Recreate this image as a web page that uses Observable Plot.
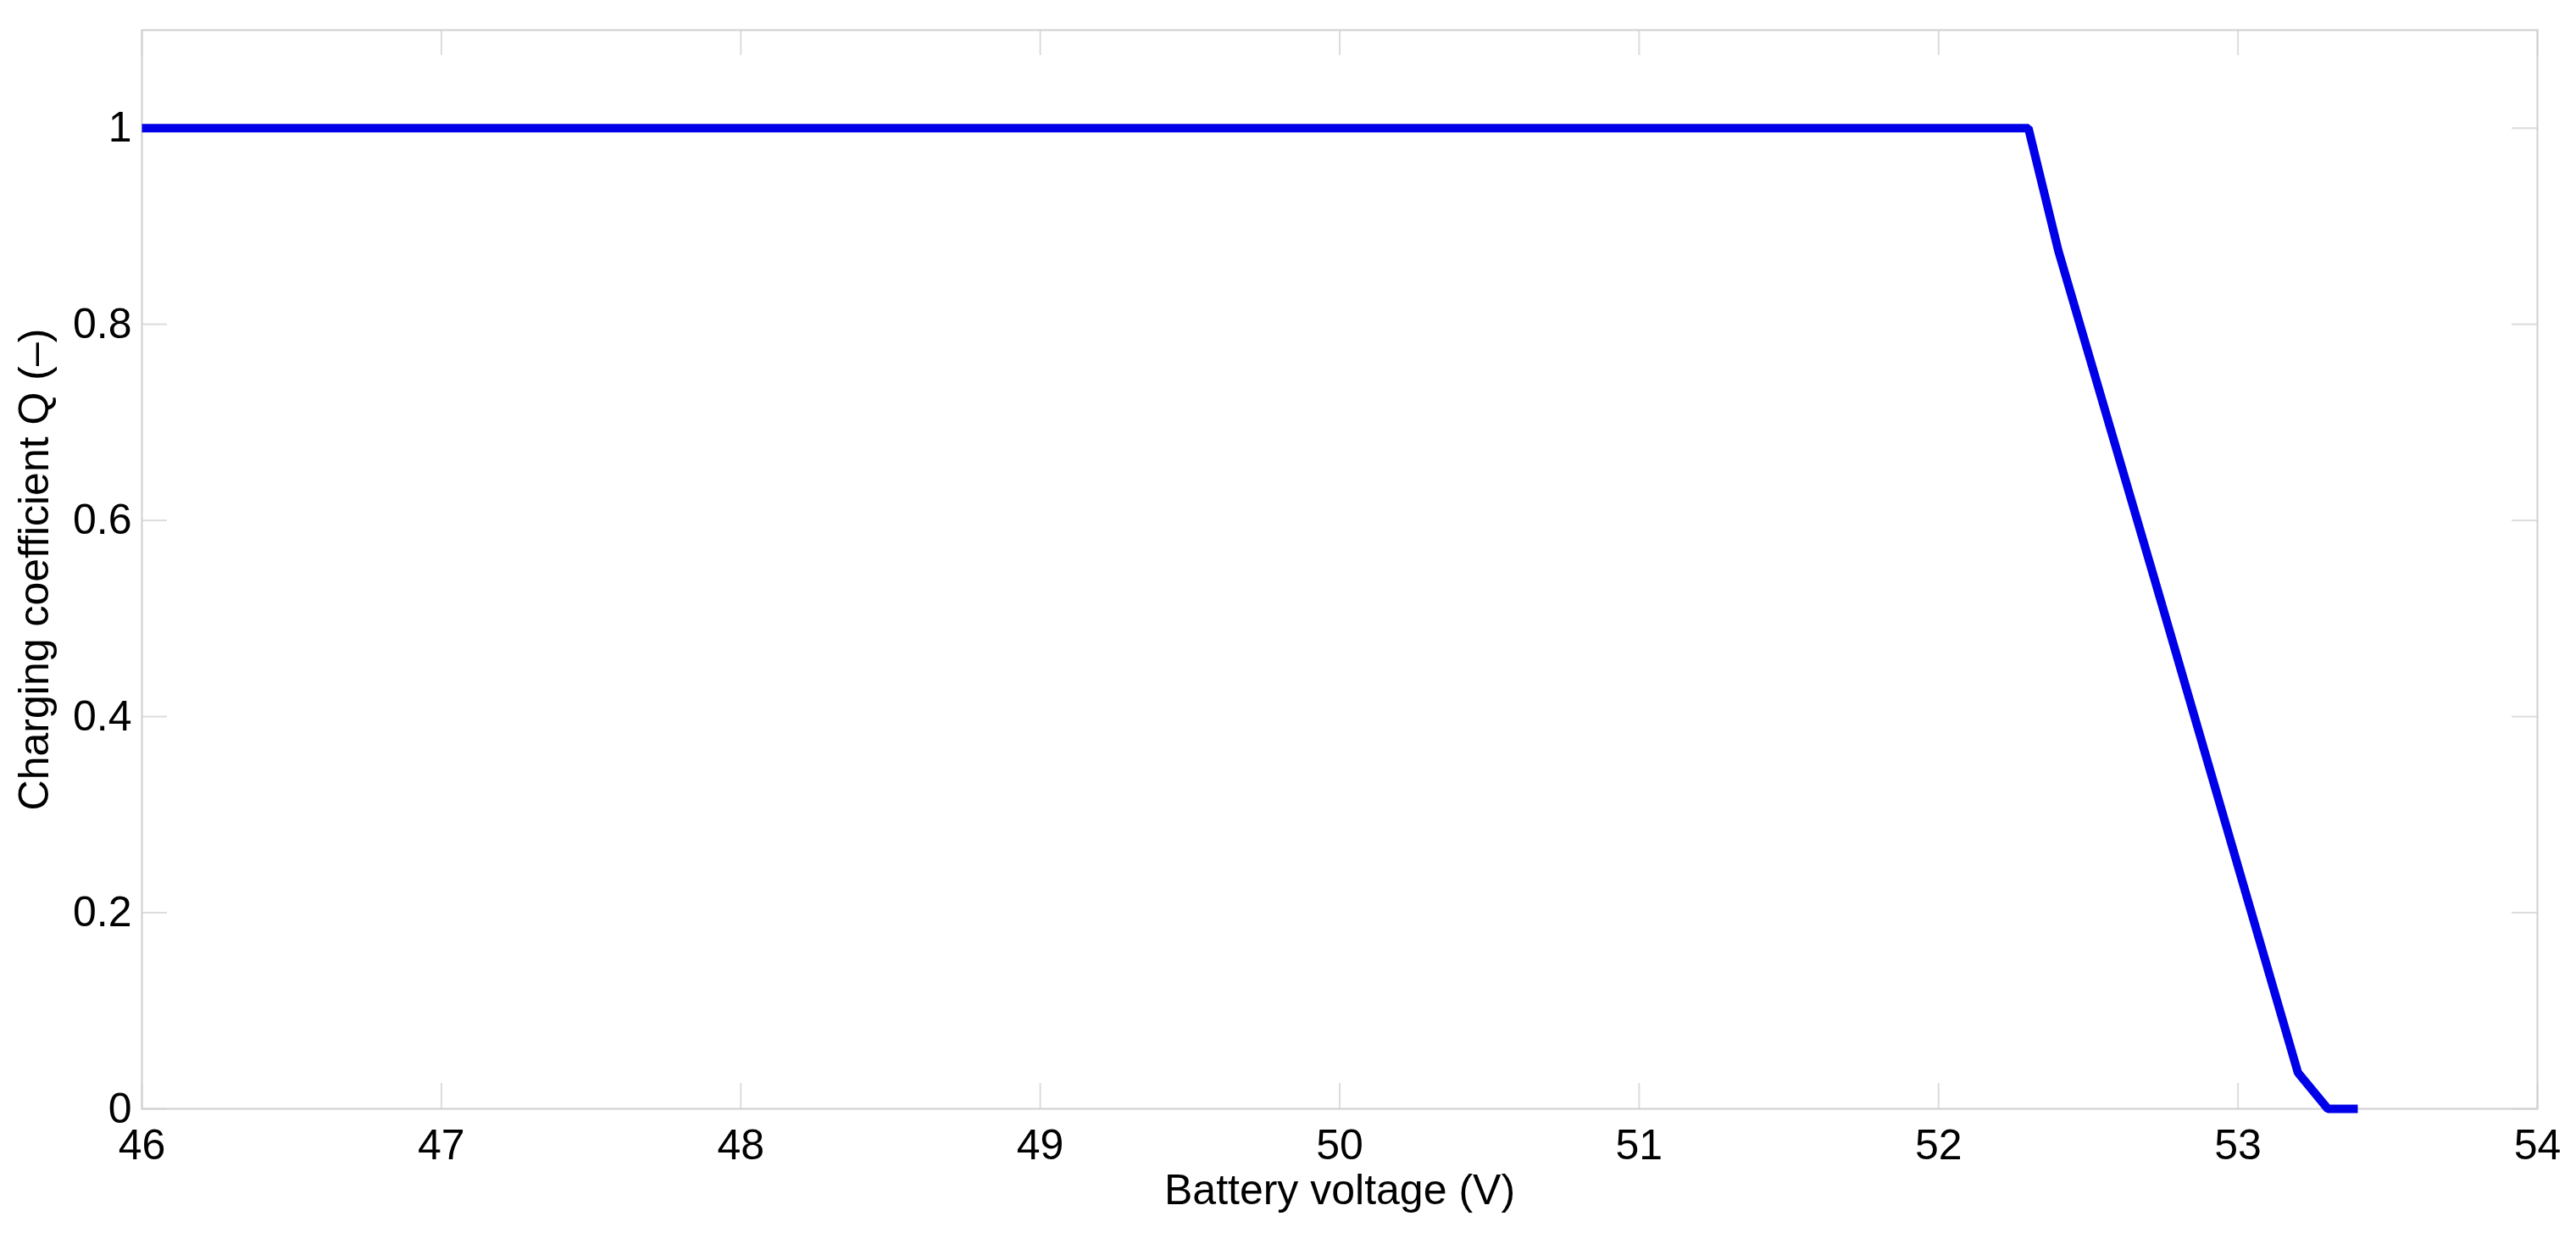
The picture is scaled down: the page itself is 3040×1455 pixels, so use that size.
<!DOCTYPE html>
<html>
<head>
<meta charset="utf-8">
<script src="https://cdn.jsdelivr.net/npm/d3@7"></script>
<script src="https://cdn.jsdelivr.net/npm/@observablehq/plot@0.6"></script>
<style>
  html, body { margin: 0; padding: 0; background: #ffffff; }
  #chart svg { display: block; }
</style>
</head>
<body>
<div id="chart"></div>
<script>
// Data
const voltage = [46, 52.3, 52.4, 52.75, 53.2, 53.3, 53.4];
const coefficient = [1, 1, 0.875, 0.51, 0.037, 0, 0];
const xTicks = [46, 47, 48, 49, 50, 51, 52, 53, 54];
const yTicks = [0, 0.2, 0.4, 0.6, 0.8, 1];
const xLabel = "Battery voltage (V)";
const yLabel = "Charging coefficient Q (\u2013)";

const data = voltage.map((v, i) => ({v, q: coefficient[i]}));

const W = 3040, H = 1455;
const mL = 167, mR = 46, mT = 35, mB = 147;
const innerW = W - mL - mR, innerH = H - mT - mB;
const tickLen = 30;
const tickColor = "#dcdcdc";
const font = "'Liberation Sans', Arial, Helvetica, sans-serif";

const chart = Plot.plot({
  width: W,
  height: H,
  marginLeft: mL,
  marginRight: mR,
  marginTop: mT,
  marginBottom: mB,
  style: {fontFamily: font, fontSize: "50px", color: "#000", background: "#fff"},
  x: {domain: [46, 54], ticks: xTicks, tickSize: 0, tickPadding: 24, label: null, tickFormat: d => String(d)},
  y: {domain: [0, 1.1], ticks: yTicks, tickSize: 0, tickPadding: 12, label: null, tickFormat: d => String(d)},
  marks: [
    // inward tick marks on all four sides
    Plot.ruleX(xTicks, {x: d => d, insetTop: innerH - tickLen, stroke: tickColor, strokeWidth: 2}),
    Plot.ruleX(xTicks, {x: d => d, insetBottom: innerH - tickLen, stroke: tickColor, strokeWidth: 2}),
    Plot.ruleY(yTicks, {y: d => d, insetRight: innerW - tickLen, stroke: tickColor, strokeWidth: 2}),
    Plot.ruleY(yTicks, {y: d => d, insetLeft: innerW - tickLen, stroke: tickColor, strokeWidth: 2}),
    Plot.frame({stroke: "#cfcfcf", strokeWidth: 2}),
    Plot.line(data, {x: "v", y: "q", stroke: "#0000e8", strokeWidth: 10, strokeLinejoin: "miter", strokeLinecap: "butt"}),
    Plot.axisX({ticks: xTicks, tickSize: 0, tickPadding: 24, tickFormat: d => String(d), label: null, fontSize: 50}),
    Plot.axisY({ticks: yTicks, tickSize: 0, tickPadding: 12, tickFormat: d => String(d), label: null, fontSize: 50}),
    Plot.text([xLabel], {frameAnchor: "bottom", text: d => d, dy: 112, lineAnchor: "bottom", textAnchor: "middle", fontSize: 50, fill: "#000"}),
    Plot.text([yLabel], {frameAnchor: "left", text: d => d, dx: -111, rotate: -90, lineAnchor: "bottom", textAnchor: "middle", fontSize: 50, fill: "#000"})
  ]
});
document.getElementById("chart").appendChild(chart);
</script>
</body>
</html>
